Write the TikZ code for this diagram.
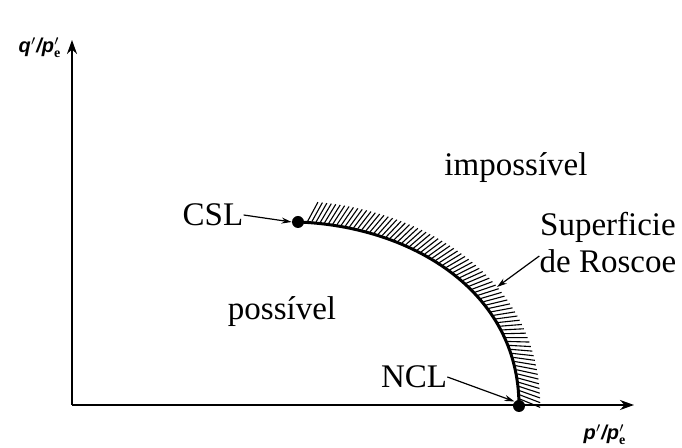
\documentclass[tikz,border=0pt]{standalone}
\usepackage{fontspec}
\setmainfont{Liberation Serif}
\setsansfont{Liberation Sans}
\usetikzlibrary{arrows.meta,decorations.markings}
\begin{document}
\begin{tikzpicture}[x=0.5pt,y=-0.5pt,
  axis/.style={line width=1pt,-{Stealth[length=7pt,width=5pt]}},
  curve/.style={line width=1.5pt},
  pt/.style={circle,fill=black,inner sep=0pt,minimum size=6pt},
  lbl/.style={font=\fontsize{16.5}{18.5}\selectfont,inner sep=0pt},
  axlbl/.style={font=\sffamily\bfseries\itshape\fontsize{10}{11}\selectfont,inner sep=0pt},
  pointer/.style={line width=0.6pt,-{Stealth[length=5pt,width=3pt]}},
  hatch/.style={postaction={decorate,decoration={markings,
      mark=between positions 0.03 and 0.985 step 2.1pt with {\draw[line width=0.55pt] (0pt,0.6pt) -- (4.5pt,10.5pt);}}}}]
\useasboundingbox (0,0) rectangle (682,448);
\coordinate (O) at (72,405);
\coordinate (ytop) at (72,40);
\coordinate (xend) at (634,405);
\draw[axis] (O) -- (ytop);
\draw[axis] (O) -- (xend);
\node[axlbl] (ql) at (40,48) {q$'$/p$'_{\mathbf e}$};
\node[axlbl] (pl) at (605,435) {p$'$/p$'_{\mathbf e}$};
\node[pt] (csl) at (298,222) {};
\node[pt] (ncl) at (519,406) {};
\draw[curve,hatch] (csl.center) .. controls (410,226) and (519,290) .. (ncl.center);
\node[lbl] (csltxt) at (213,215) {CSL};
\node[lbl] (ncltxt) at (414,377) {NCL};
\draw[pointer] (csltxt.east) -- (csl.west);
\draw[pointer] (ncltxt.east) -- (ncl.north west);
\node[lbl] (imp) at (516,168) {impossível};
\node[lbl] (pos) at (282,312) {possível};
\node[lbl,align=center] (rosc) at (608,243) {Superficie\\de Roscoe};
\coordinate (rtip) at (497,287);
\draw[pointer] (rosc.west |- 0,256) -- (rtip);
\end{tikzpicture}
\end{document}
